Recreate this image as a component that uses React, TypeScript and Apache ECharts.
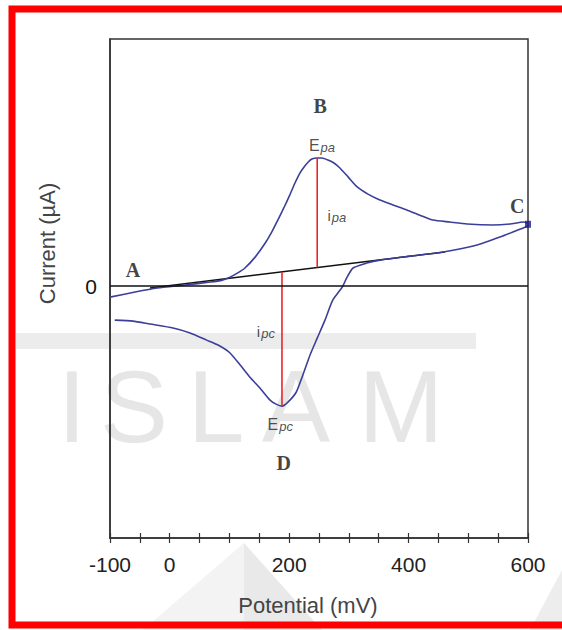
import React, { useEffect, useRef } from "react";
import * as echarts from "echarts";

// Potential (mV) and current (µA)
const potentialFwd = [-100, -58, -21, 26, 67.5, 88, 101, 114, 126, 143, 160, 171, 181, 191, 201, 209, 218, 225, 232, 238, 247, 255, 265, 275, 285, 299, 314, 332, 352, 374, 397, 419, 441, 469, 498, 541, 570, 592, 600];
const currentFwd = [-0.45, -0.24, -0.08, 0.04, 0.16, 0.24, 0.36, 0.53, 0.73, 1.17, 1.74, 2.19, 2.67, 3.16, 3.68, 4.13, 4.57, 4.82, 5.02, 5.14, 5.18, 5.18, 5.10, 4.98, 4.78, 4.41, 4.01, 3.72, 3.48, 3.28, 3.08, 2.87, 2.67, 2.59, 2.51, 2.47, 2.51, 2.59, 2.55];

const potentialRev = [600, 592, 553, 515, 458, 402, 352, 330, 307, 297, 289, 273, 260, 247, 235, 223, 212, 198, 188, 178, 168, 151, 134, 118, 101, 81, 62, 34, 5.5, -33, -61.5, -92];
const currentRev = [2.43, 2.35, 1.98, 1.66, 1.38, 1.21, 1.05, 0.93, 0.73, 0.36, -0.04, -0.57, -1.38, -2.11, -2.79, -3.60, -4.29, -4.70, -4.86, -4.78, -4.62, -4.13, -3.68, -3.20, -2.71, -2.39, -2.19, -1.90, -1.70, -1.54, -1.42, -1.38];

const baselineE = [-33, 461];
const baselineI = [-0.08, 1.38];

const epaLineE = [247, 247];
const epaLineI = [5.18, 0.75];
const epcLineE = [188, 188];
const epcLineI = [0.57, -4.86];

const xTickLabels = [-100, 0, 200, 400, 600];

const annotationText = ["A", "B", "C", "D", "{e|E}{s|pa}", "{i|i}{s|pa}", "{i|i}{s|pc}", "{e|E}{s|pc}"];
const annotationE = [-61.5, 252, 582, 191, 255, 280, 161, 185];
const annotationI = [0.65, 7.29, 3.24, -7.17, 5.67, 2.87, -1.86, -5.59];

const SANS = "'Liberation Sans', Arial, sans-serif";
const SERIF = "'Liberation Serif', 'Times New Roman', serif";

const zip = (a: number[], b: number[]) => a.map((v, i) => [v, b[i]]);

export default function App() {
  const ref = useRef<HTMLDivElement>(null);
  useEffect(() => {
    if (!ref.current) return;
    const chart = echarts.init(ref.current, null, { renderer: "svg" });
    const blue = "#3b3f98";
    const red = "#e8262a";
    const wm = "#e6e6e6";
    const option: any = {
      animation: false,
      backgroundColor: "#ffffff",
      grid: { left: 110, right: 34, top: 39, bottom: 92, show: true, borderColor: "#333", borderWidth: 1.5, outerBoundsMode: "none" },
      xAxis: [
        {
          type: "value",
          min: -100,
          max: 600,
          interval: 50,
          name: "Potential (mV)",
          nameLocation: "middle",
          nameGap: 56,
          nameTextStyle: { fontFamily: SANS, fontSize: 22, color: "#444", padding: [0, 22, 0, 0] },
          axisLine: { show: true, onZero: false, lineStyle: { color: "#333", width: 1.5 } },
          axisTick: { show: true, inside: true, length: 5, lineStyle: { color: "#333", width: 1.2 } },
          axisLabel: {
            margin: 16,
            fontFamily: SANS,
            fontSize: 21,
            color: "#222",
            formatter: (v: number) => (xTickLabels.includes(v) ? String(v) : ""),
          },
          splitLine: { show: false },
        },
        {
          type: "value",
          min: -100,
          max: 600,
          interval: 50,
          position: "bottom",
          axisLine: { show: false, onZero: false },
          axisTick: { show: true, inside: false, length: 5, lineStyle: { color: "#333", width: 1.2 } },
          axisLabel: { show: false },
          splitLine: { show: false },
        },
      ],
      yAxis: {
        type: "value",
        min: -10.2,
        max: 10,
        name: "Current (µA)",
        nameLocation: "middle",
        nameGap: 52,
        nameRotate: 90,
        nameTextStyle: { fontFamily: SANS, fontSize: 22, color: "#444", padding: [0, 0, 0, 90] },
        axisLine: { show: true, onZero: false, lineStyle: { color: "#333", width: 1.5 } },
        axisTick: { show: false },
        axisLabel: { customValues: [0], margin: 13, fontFamily: SANS, fontSize: 21, color: "#111" },
        splitLine: { show: false },
      },
      graphic: [
        { type: "rect", z: -10, shape: { x: 16, y: 333, width: 460, height: 16 }, style: { fill: "#ececec" } },
        { type: "polygon", z: -10, shape: { points: [[143, 630], [244, 543], [244, 630]] }, style: { fill: "#f3f3f3" } },
        { type: "polygon", z: -10, shape: { points: [[244, 543], [322, 630], [244, 630]] }, style: { fill: "#e9e9e9" } },
        { type: "polygon", z: -10, shape: { points: [[530, 630], [562, 570], [562, 630]] }, style: { fill: "#ededed" } },
        { type: "text", z: -10, style: { text: "I", x: 72, y: 407, fontFamily: SANS, fontSize: 102, fill: wm, align: "center", verticalAlign: "middle" } },
        { type: "text", z: -10, style: { text: "S", x: 134, y: 407, fontFamily: SANS, fontSize: 102, fill: wm, align: "center", verticalAlign: "middle" } },
        { type: "text", z: -10, style: { text: "L", x: 216, y: 407, fontFamily: SANS, fontSize: 102, fill: wm, align: "center", verticalAlign: "middle" } },
        { type: "text", z: -10, style: { text: "A", x: 296, y: 407, fontFamily: SANS, fontSize: 102, fill: wm, align: "center", verticalAlign: "middle" } },
        { type: "text", z: -10, style: { text: "M", x: 401, y: 407, fontFamily: SANS, fontSize: 102, fill: wm, align: "center", verticalAlign: "middle" } },
        { type: "rect", z: 100, shape: { x: 12, y: 9, width: 600, height: 616 }, style: { fill: "none", stroke: "#ff0000", lineWidth: 7 } },
      ],
      series: [
        {
          type: "line",
          name: "Forward scan",
          data: zip(potentialFwd, currentFwd),
          showSymbol: false,
          smooth: 0.2,
          lineStyle: { color: blue, width: 1.6 },
          z: 3,
          markLine: {
            silent: true,
            symbol: ["none", "none"],
            label: { show: false },
            lineStyle: { color: "#111", width: 1.5, type: "solid" },
            data: [{ yAxis: 0 }],
          },
        },
        {
          type: "line",
          name: "Reverse scan",
          data: zip(potentialRev, currentRev),
          showSymbol: false,
          smooth: 0.2,
          lineStyle: { color: blue, width: 1.6 },
          z: 3,
        },
        {
          type: "line",
          name: "Baseline",
          data: zip(baselineE, baselineI),
          showSymbol: false,
          lineStyle: { color: "#111", width: 1.5 },
          z: 2,
        },
        {
          type: "line",
          name: "ipa",
          data: zip(epaLineE, epaLineI),
          showSymbol: false,
          lineStyle: { color: red, width: 1.6 },
          z: 4,
        },
        {
          type: "line",
          name: "ipc",
          data: zip(epcLineE, epcLineI),
          showSymbol: false,
          lineStyle: { color: red, width: 1.6 },
          z: 4,
        },
        {
          type: "scatter",
          name: "C marker",
          data: [[600, 2.5]],
          symbol: "rect",
          symbolSize: [6, 7],
          itemStyle: { color: "#1c1c8a" },
          z: 5,
        },
        {
          type: "scatter",
          name: "Annotations",
          symbolSize: 0,
          z: 6,
          data: annotationText.map((t, i) => ({
            value: [annotationE[i], annotationI[i]],
            label: {
              show: true,
              position: "inside",
              formatter: t,
              color: "#111",
              fontFamily: t.startsWith("{") ? SANS : SERIF,
              fontWeight: t.startsWith("{") ? "normal" : "bold",
              fontSize: t.startsWith("{") ? 16 : 20,
              lineHeight: t.startsWith("{") ? 16 : 20,
              rich: {
                e: { fontFamily: SANS, fontSize: 16, lineHeight: 16, color: "#222" },
                i: { fontFamily: SANS, fontSize: 15, lineHeight: 16, color: "#222" },
                s: { fontFamily: SANS, fontSize: 13, lineHeight: 16, fontStyle: "italic", color: "#222", padding: [4, 0, 0, 1] },
              },
            },
          })),
        },
      ],
    };
    chart.setOption(option);
    return () => chart.dispose();
  }, []);
  return <div ref={ref} style={{ position: "absolute", left: 0, top: 0, width: 562, height: 630 }} />;
}
